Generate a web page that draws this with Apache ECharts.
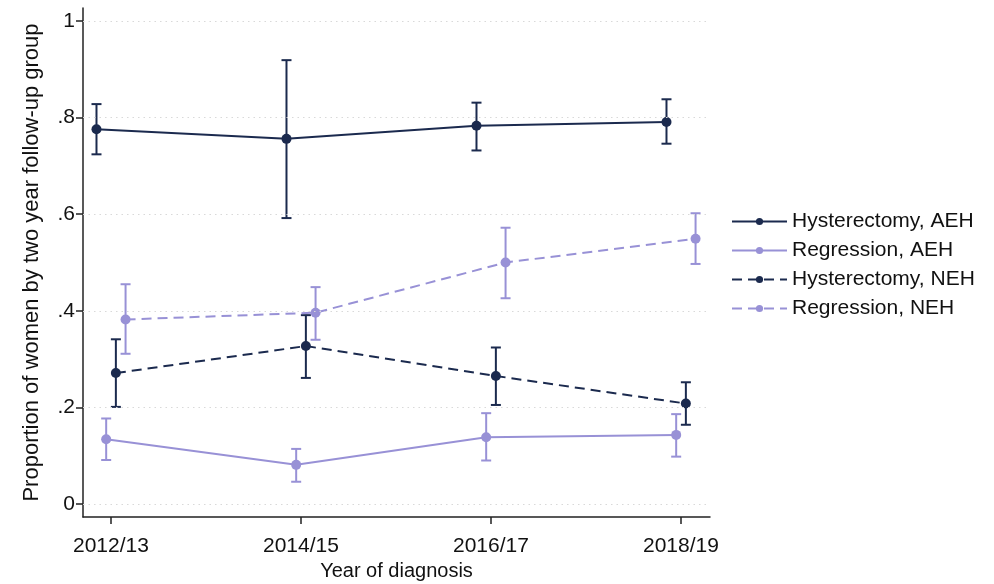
<!DOCTYPE html>
<html><head><meta charset="utf-8">
<script src="https://cdn.jsdelivr.net/npm/echarts@6/dist/echarts.min.js"></script>
<style>html,body{margin:0;padding:0;background:#fff}#c{width:994px;height:584px}</style>
</head><body><div id="c"></div>
<script>
const categories = ['2012/13', '2014/15', '2016/17', '2018/19'];
const yTicks = [0, 0.2, 0.4, 0.6, 0.8, 1];

const hystAEH    = [0.776, 0.756, 0.783, 0.791];
const hystAEH_lo = [0.724, 0.592, 0.732, 0.746];
const hystAEH_hi = [0.828, 0.919, 0.831, 0.838];

const regAEH     = [0.134, 0.081, 0.138, 0.143];
const regAEH_lo  = [0.091, 0.046, 0.090, 0.098];
const regAEH_hi  = [0.177, 0.114, 0.188, 0.186];

const hystNEH    = [0.271, 0.327, 0.265, 0.208];
const hystNEH_lo = [0.201, 0.261, 0.205, 0.164];
const hystNEH_hi = [0.341, 0.391, 0.324, 0.252];

const regNEH     = [0.382, 0.396, 0.500, 0.549];
const regNEH_lo  = [0.311, 0.340, 0.426, 0.497];
const regNEH_hi  = [0.455, 0.449, 0.572, 0.602];

const seriesNames = ['Hysterectomy, AEH', 'Regression, AEH', 'Hysterectomy, NEH', 'Regression, NEH'];

const DARK = '#1b2a4e', LIGHT = '#9891d6';
const FONT = 'Liberation Sans, Arial, sans-serif';
const dodge = [-0.076, -0.025, 0.026, 0.077];

const groups = [
  {name: seriesNames[0], v: hystAEH, lo: hystAEH_lo, hi: hystAEH_hi, color: DARK, dash: 'solid'},
  {name: seriesNames[1], v: regAEH,  lo: regAEH_lo,  hi: regAEH_hi,  color: LIGHT, dash: 'solid'},
  {name: seriesNames[2], v: hystNEH, lo: hystNEH_lo, hi: hystNEH_hi, color: DARK, dash: [10, 6]},
  {name: seriesNames[3], v: regNEH,  lo: regNEH_lo,  hi: regNEH_hi,  color: LIGHT, dash: [10, 6]}
];

const series = [];
series.push({
  type: 'line', data: [], silent: true,
  markLine: {
    silent: true, symbol: 'none', label: {show: false},
    lineStyle: {color: '#d9d9d9', type: [1.5, 4], width: 1.2},
    data: yTicks.map(t => ({yAxis: t}))
  }
});
groups.forEach((g, gi) => {
  series.push({
    type: 'custom', name: g.name + ' CI', z: 3,
    data: categories.map((c, i) => [i + dodge[gi], g.lo[i], g.hi[i]]),
    renderItem: function (params, api) {
      const x = api.value(0);
      const p1 = api.coord([x, api.value(1)]);
      const p2 = api.coord([x, api.value(2)]);
      const w = 5;
      const st = {stroke: g.color, lineWidth: 2};
      return {type: 'group', children: [
        {type: 'line', shape: {x1: p1[0], y1: p1[1], x2: p2[0], y2: p2[1]}, style: st},
        {type: 'line', shape: {x1: p1[0] - w, y1: p1[1], x2: p1[0] + w, y2: p1[1]}, style: st},
        {type: 'line', shape: {x1: p2[0] - w, y1: p2[1], x2: p2[0] + w, y2: p2[1]}, style: st}
      ]};
    }
  });
  series.push({
    type: 'line', name: g.name, z: 4,
    data: categories.map((c, i) => [i + dodge[gi], g.v[i]]),
    symbol: 'circle', symbolSize: 10,
    itemStyle: {color: g.color},
    lineStyle: {color: g.color, width: 2, type: g.dash}
  });
});

const chart = echarts.init(document.getElementById('c'), null, {renderer: 'canvas'});
chart.setOption({
  animation: false,
  backgroundColor: '#fff',
  grid: {left: 83, right: 284, top: 8, bottom: 67, containLabel: false, outerBoundsMode: 'none'},
  legend: {
    orient: 'vertical', left: 726, top: 206,
    data: seriesNames,
    itemWidth: 55, itemHeight: 9, itemGap: 8,
    textStyle: {fontFamily: FONT, fontSize: 21, color: '#111'}
  },
  xAxis: {
    type: 'value', min: -0.147, max: 3.153,
    name: 'Year of diagnosis', nameLocation: 'middle', nameGap: 44,
    nameTextStyle: {fontFamily: FONT, fontSize: 20, color: '#111'},
    axisLine: {onZero: false, lineStyle: {color: '#222', width: 1.5}},
    axisTick: {customValues: [0, 1, 2, 3], length: 7, lineStyle: {color: '#222', width: 1.5}},
    axisLabel: {customValues: [0, 1, 2, 3], formatter: v => categories[Math.round(v)], fontFamily: FONT, fontSize: 21, color: '#111', margin: 19},
    splitLine: {show: false}
  },
  yAxis: {
    type: 'value', min: -0.027, max: 1.027,
    name: 'Proportion of women by two year follow-up group', nameLocation: 'middle', nameGap: 40,
    nameTextStyle: {fontFamily: FONT, fontSize: 22, color: '#111'},
    axisLine: {show: true, onZero: false, lineStyle: {color: '#222', width: 1.5}},
    axisTick: {show: true, customValues: yTicks, length: 7, lineStyle: {color: '#222', width: 1.5}},
    axisLabel: {customValues: yTicks, formatter: v => (v === 0 ? '0' : v === 1 ? '1' : String(v).replace(/^0/, '')), fontFamily: FONT, fontSize: 21, color: '#111', margin: 8},
    splitLine: {show: false}
  },
  series: series
});
</script>
</body></html>
